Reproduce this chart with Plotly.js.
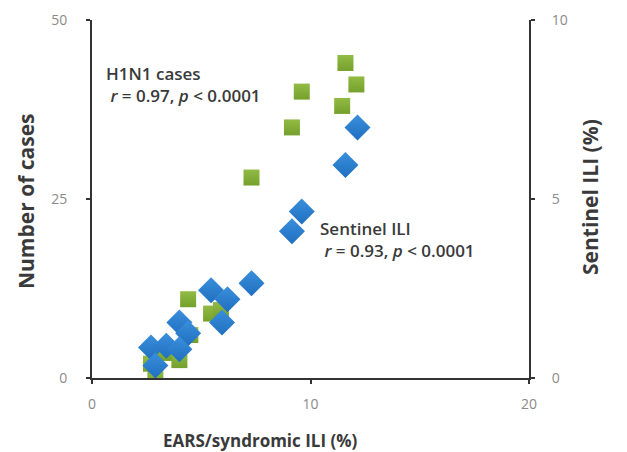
<!DOCTYPE html>
<html>
<head>
<meta charset="utf-8">
<script src="https://cdn.plot.ly/plotly-3.0.1.min.js"></script>
<style>html,body{margin:0;padding:0;background:#fff;}#chart{width:627px;height:452px;}</style>
</head>
<body>
<div id="chart"></div>
<script>
// H1N1 cases (left axis) vs EARS/syndromic ILI (%)
var h1n1X = [11.6, 12.1, 11.45, 9.6, 9.15, 7.3, 4.4, 5.45, 2.9, 4.0, 3.3, 2.7, 4.5, 5.9];
var h1n1Y = [44.0, 41.0, 38.0, 40.0, 35.0, 28.0, 11.0, 9.0, 0.0, 2.5, 3.5, 2.0, 6.0, 9.5];
// Sentinel ILI (%) (right axis) vs EARS/syndromic ILI (%)
var sentX = [12.15, 11.6, 9.6, 9.15, 7.3, 5.45, 6.2, 5.95, 4.0, 4.4, 2.7, 3.4, 2.9, 4.0];
var sentY = [7.0, 5.95, 4.65, 4.1, 2.65, 2.45, 2.2, 1.55, 1.55, 1.25, 0.85, 0.9, 0.35, 0.8];

var xTicks = [0, 10, 20];
var yLeftTicks = [0, 25, 50];
var yRightTicks = [0, 5, 10];

var FONT = '"Open Sans", Lato, sans-serif';

var traces = [
  {
    x: h1n1X, y: h1n1Y, type: 'scatter', mode: 'markers', name: 'H1N1 cases',
    yaxis: 'y',
    marker: {symbol: 'square', size: 16, color: '#92bb44',
      gradient: {type: 'vertical', color: '#74a02c'},
      line: {width: 0}}
  },
  {
    x: sentX, y: sentY, type: 'scatter', mode: 'markers', name: 'Sentinel ILI',
    yaxis: 'y2',
    marker: {symbol: 'diamond', size: 20, color: '#3a8fdc',
      gradient: {type: 'vertical', color: '#1f6fc0'},
      line: {width: 0}}
  }
];

var tickFont = {family: FONT, size: 14, color: '#8a8a8a'};
var titleFont = {family: FONT, size: 17, color: '#3a3a3a', weight: 'bold'};
var vTitleFont = {family: FONT, size: 21, color: '#3a3a3a', weight: 'bold'};
var annFont = {family: FONT, size: 17, color: '#3a3a3a', weight: 600};

var axisCommon = {
  showgrid: false, zeroline: false, showline: true, linecolor: '#333333', linewidth: 2,
  ticks: 'outside', ticklen: 4, tickwidth: 2, tickcolor: '#333333',
  tickfont: tickFont, fixedrange: true
};

var layout = {
  width: 627, height: 452,
  margin: {l: 92, r: 98, t: 20, b: 74},
  paper_bgcolor: '#ffffff', plot_bgcolor: '#ffffff',
  showlegend: false,
  xaxis: Object.assign({}, axisCommon, {
    range: [0, 20], tickvals: xTicks, ticktext: xTicks.map(String), ticklabelstandoff: 8
  }),
  yaxis: Object.assign({}, axisCommon, {
    range: [0, 50], tickvals: yLeftTicks, ticktext: yLeftTicks.map(String), ticklabelstandoff: 16
  }),
  yaxis2: Object.assign({}, axisCommon, {
    range: [0, 10], tickvals: yRightTicks, ticktext: yRightTicks.map(String),
    overlaying: 'y', side: 'right', ticklabelstandoff: 14
  }),
  annotations: [
    {xref: 'paper', yref: 'paper', x: (260 - 92) / 437, y: (378 - 440) / 358,
     text: '<b>EARS/syndromic ILI (%)</b>', showarrow: false, font: titleFont,
     xanchor: 'center', yanchor: 'middle'},
    {xref: 'paper', yref: 'paper', x: (26 - 92) / 437, y: (378 - 201) / 358,
     text: '<b>Number of cases</b>', showarrow: false, font: vTitleFont, textangle: -90,
     xanchor: 'center', yanchor: 'middle'},
    {xref: 'paper', yref: 'paper', x: (590 - 92) / 437, y: (378 - 197) / 358,
     text: '<b>Sentinel ILI (%)</b>', showarrow: false, font: vTitleFont, textangle: -90,
     xanchor: 'center', yanchor: 'middle'},
    {xref: 'paper', yref: 'paper', x: (104 - 92) / 437, y: (378 - 85) / 358,
     text: 'H1N1 cases<br> <i>r</i> = 0.97, <i>p</i> < 0.0001', showarrow: false, font: annFont,
     align: 'left', xanchor: 'left', yanchor: 'middle'},
    {xref: 'paper', yref: 'paper', x: (318 - 92) / 437, y: (378 - 239) / 358,
     text: 'Sentinel ILI<br> <i>r</i> = 0.93, <i>p</i> < 0.0001', showarrow: false, font: annFont,
     align: 'left', xanchor: 'left', yanchor: 'middle'}
  ]
};

Plotly.newPlot('chart', traces, layout, {displayModeBar: false, staticPlot: true});
</script>
</body>
</html>
